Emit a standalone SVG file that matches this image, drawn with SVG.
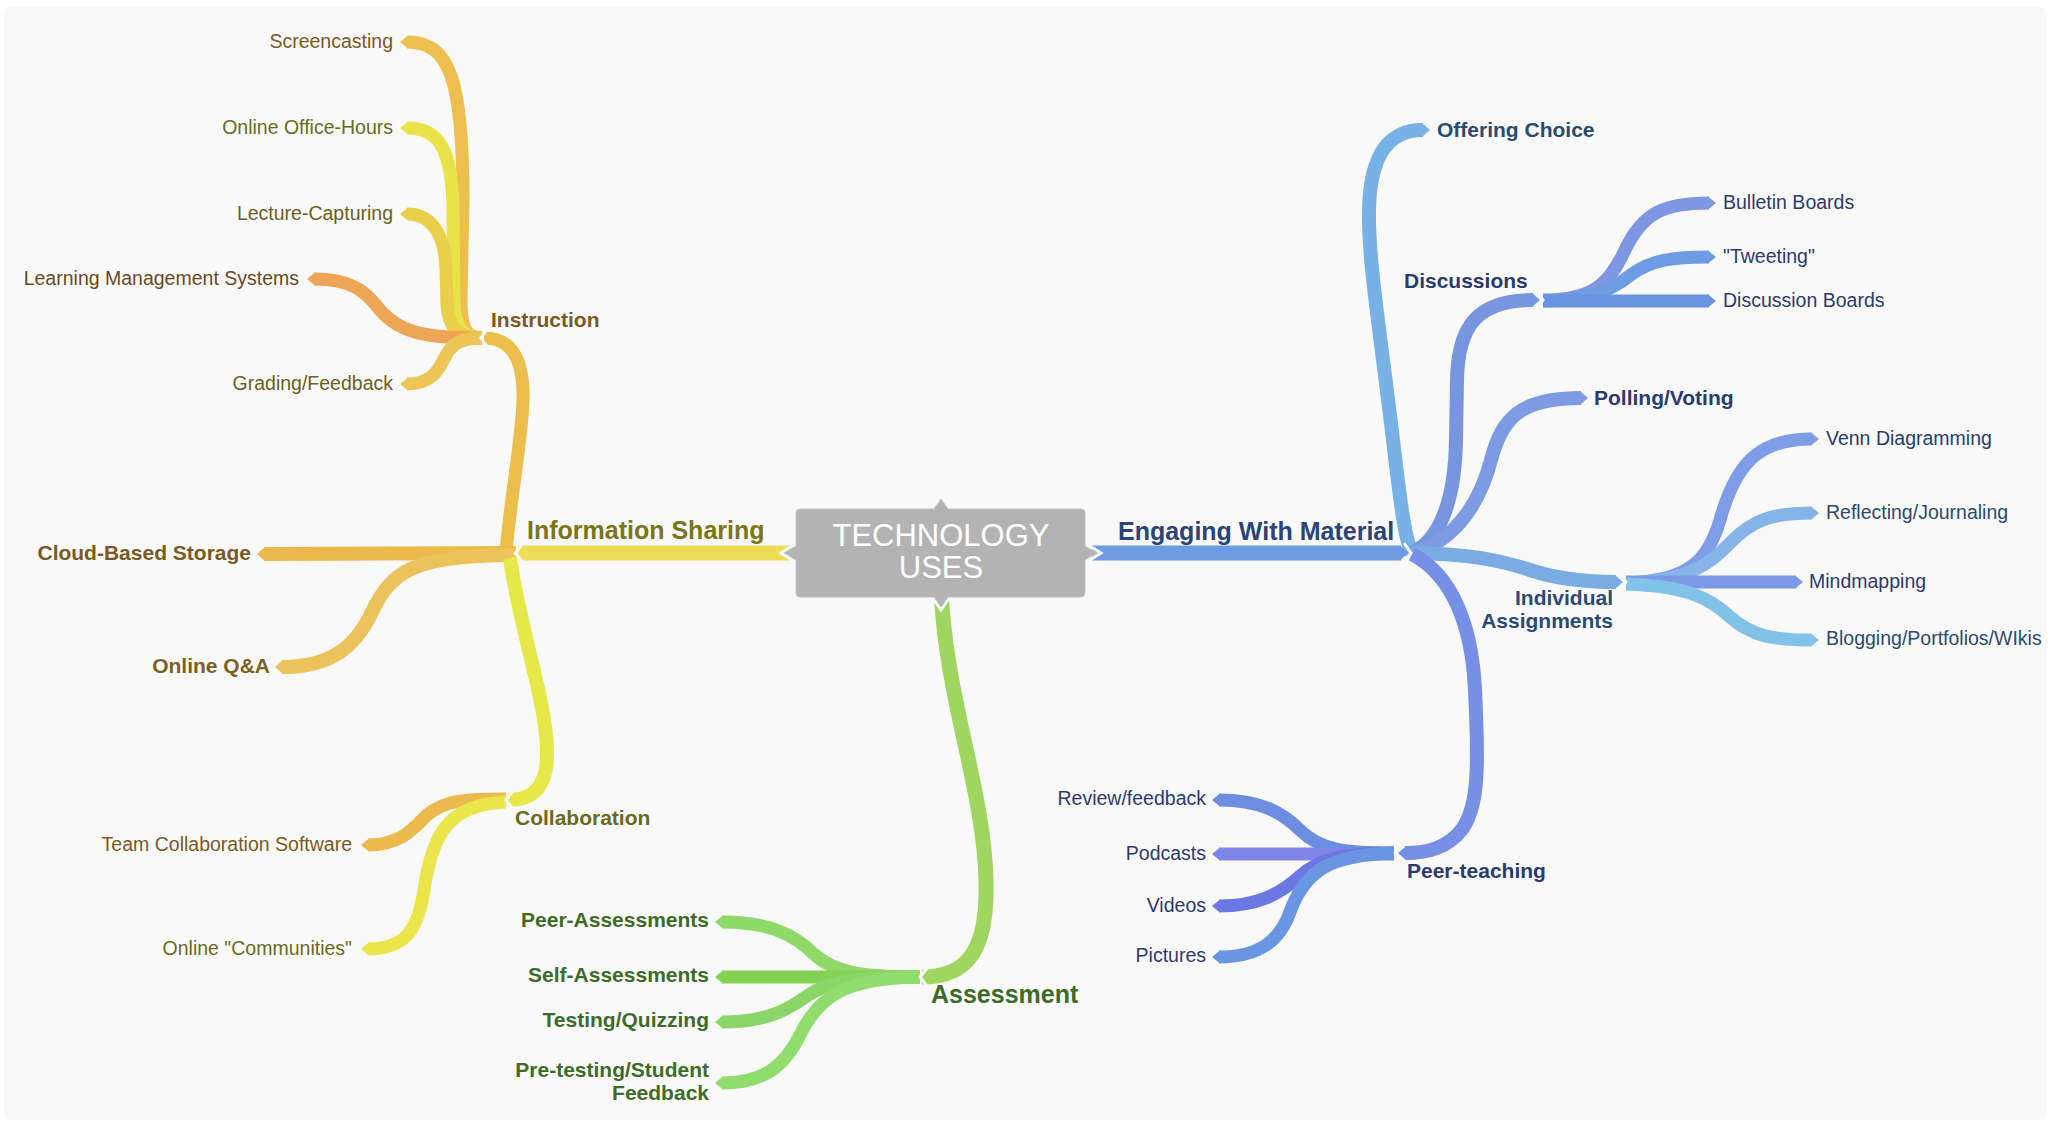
<svg xmlns="http://www.w3.org/2000/svg" width="2053" height="1125" viewBox="0 0 2053 1125">
<style>
.ln{fill:none;stroke-linecap:butt;stroke-linejoin:round}
.w13{stroke-width:13}.w14{stroke-width:14}.w15{stroke-width:15}
.gap{fill:none;stroke:#f9f9f9;stroke-width:3;stroke-linejoin:miter}
text{font-family:"Liberation Sans",Arial,Helvetica,sans-serif}
.leaf{font-size:19.5px}
.sub{font-size:21px;font-weight:bold}
.main{font-size:25px;font-weight:bold}
.end{text-anchor:end}
.ttl{font-size:31px;fill:#ffffff;text-anchor:middle}
.cO{fill:#7a5a22}.cY{fill:#6c6a1e}.cG{fill:#3f6b28}.cB{fill:#2b3b70}
</style>
<rect x="0" y="0" width="2053" height="1125" fill="#ffffff"/>
<rect x="4" y="7" width="2043" height="1113" rx="8" fill="#f9f9f9"/>

<g id="connectors">
  <!-- Information Sharing main branch -->
  <path class="ln w15" stroke="#eddc55" d="M518,553 L790,553"/>
  <polyline class="gap" points="796,543.5 781,553 796,562.5"/>
  <!-- Instruction connector -->
  <path class="ln w13" stroke="#ecbe4c" d="M506,553 C510,500 522,440 523,400 C524,360 512,338 484,338"/>
  <!-- Instruction children -->
  <path class="ln w13" stroke="#ecbf4f" d="M407,42 C450,42 463,80 463,200 L461,300 C461,328 466,338 482,338"/>
  <polygon fill="#ecbf4f" points="400,42 408,35.5 408,48.5"/>
  <path class="ln w13" stroke="#e9e34a" d="M407,128 C440,128 452,150 453,210 L454,300 C455,328 462,338 482,338"/>
  <polygon fill="#e9e34a" points="400,128 408,121.5 408,134.5"/>
  <path class="ln w13" stroke="#ead04a" d="M407,214 C432,214 445,235 446,270 L447,305 C449,330 460,338 482,338"/>
  <polygon fill="#ead04a" points="400,214 408,207.5 408,220.5"/>
  <path class="ln w13" stroke="#eea555" d="M314,279 C350,279 365,290 380,310 C400,333 425,338 482,338"/>
  <polygon fill="#eea555" points="307,279 315,272.5 315,285.5"/>
  <path class="ln w13" stroke="#edc655" d="M407,384 C430,384 438,372 445,357 C452,343 462,338 482,338"/>
  <polygon fill="#edc655" points="400,384 408,377.5 408,390.5"/>
  <polyline class="gap" points="488,328 481,338 488,348"/>
  <!-- Information Sharing children -->
  <path class="ln w14" stroke="#ecb94d" d="M264,554 L516,553"/>
  <polygon fill="#ecb94d" points="257,554 265,547 265,561"/>
  <path class="ln w14" stroke="#ecc35a" d="M282,667 C330,667 355,648 372,612 C392,570 415,555 516,555"/>
  <polygon fill="#ecc35a" points="275,667 283,660 283,674"/>
  <path class="ln w14" stroke="#e6e84a" d="M510,558 C520,630 546,700 547,750 C548,785 535,800 508,800"/>
  <polyline class="gap" points="523,544 515,553 523,562"/>
  <!-- Collaboration children -->
  <path class="ln w13" stroke="#ecb94d" d="M368,845 C400,845 412,830 427,815 C445,800 465,799 506,799"/>
  <polygon fill="#ecb94d" points="361,845 369,838.5 369,851.5"/>
  <path class="ln w13" stroke="#e9e54a" d="M368,949 C405,949 418,930 424,890 C432,835 448,804 506,802"/>
  <polygon fill="#e9e54a" points="361,949 369,942.5 369,955.5"/>
  <polyline class="gap" points="513,791 506,800 513,809"/>
  <!-- Assessment main branch -->
  <path class="ln w15" stroke="#9fd65f" d="M941,590 C946,700 984,790 986,880 C988,950 968,977 922,977"/>
  <polyline class="gap" points="931.5,596 941,610 950.5,596"/>
  <!-- Assessment children -->
  <path class="ln w13" stroke="#8dda69" d="M722,922 C770,922 795,935 815,955 C838,975 870,977 920,977"/>
  <polygon fill="#8dda69" points="715,922 723,915.5 723,928.5"/>
  <path class="ln w13" stroke="#84d254" d="M722,977 L920,977"/>
  <polygon fill="#84d254" points="715,977 723,970.5 723,983.5"/>
  <path class="ln w13" stroke="#8bd668" d="M722,1022 C770,1022 790,1008 810,994 C832,980 865,977 920,977"/>
  <polygon fill="#8bd668" points="715,1022 723,1015.5 723,1028.5"/>
  <path class="ln w13" stroke="#90dc6c" d="M722,1083 C765,1083 785,1065 800,1035 C820,993 850,978 920,977"/>
  <polygon fill="#90dc6c" points="715,1083 723,1076.5 723,1089.5"/>
  <polyline class="gap" points="927,968 920,977 927,986"/>
  <!-- Engaging With Material main branch -->
  <path class="ln w15" stroke="#6f9be3" d="M1092,553 L1401,553"/>
  <polyline class="gap" points="1086,543.5 1101,553 1086,562.5"/>
  <!-- Engaging children -->
  <path class="ln w14" stroke="#78b1e6" d="M1412,553 C1405,540 1400,500 1393,440 C1380,330 1368,260 1369,210 C1370,160 1385,130 1423,130"/>
  <polygon fill="#78b1e6" points="1430,130 1422,123 1422,137"/>
  <path class="ln w14" stroke="#7896e0" d="M1412,553 C1440,540 1455,500 1456,440 L1457,380 C1458,325 1478,300 1533,300"/>
  <polygon fill="#7896e0" points="1540,300 1532,293 1532,307"/>
  <path class="ln w14" stroke="#7d9be3" d="M1412,553 C1460,540 1482,495 1491,460 C1502,418 1520,398 1581,398"/>
  <polygon fill="#7d9be3" points="1588,398 1580,391 1580,405"/>
  <path class="ln w14" stroke="#7aabe3" d="M1412,553 C1470,554 1500,560 1530,570 C1560,580 1590,582 1616,582"/>
  <polygon fill="#7aabe3" points="1623,582 1615,575 1615,589"/>
  <path class="ln w14" stroke="#7690e6" d="M1412,554 C1452,575 1472,625 1475,690 C1479,770 1478,805 1463,828 C1448,848 1428,853 1405,853"/>
  <polygon fill="#7690e6" points="1398,853 1406,846 1406,860"/>
  <polygon fill="#6f9be3" points="1408,553 1400,545.5 1400,560.5"/>
  <polyline class="gap" points="1404,543 1411,553 1404,563"/>
  <!-- Discussions children -->
  <path class="ln w13" stroke="#7d97e2" d="M1543,300 C1595,300 1610,282 1625,250 C1643,212 1665,203 1709,203"/>
  <polygon fill="#7d97e2" points="1716,203 1708,196.5 1708,209.5"/>
  <path class="ln w13" stroke="#6e9ce4" d="M1543,301 C1590,301 1612,290 1632,274 C1652,260 1672,257 1709,257"/>
  <polygon fill="#6e9ce4" points="1716,257 1708,250.5 1708,263.5"/>
  <path class="ln w13" stroke="#6a94e2" d="M1543,301 L1709,301"/>
  <polygon fill="#6a94e2" points="1716,301 1708,294.5 1708,307.5"/>
  <polyline class="gap" points="1536,291 1543,300 1536,309"/>
  <!-- Individual Assignments children -->
  <path class="ln w13" stroke="#7e9de6" d="M1626,583 C1690,581 1708,560 1720,520 C1736,462 1760,439 1812,439"/>
  <polygon fill="#7e9de6" points="1819,439 1811,432.5 1811,445.5"/>
  <path class="ln w13" stroke="#86b3e8" d="M1626,583 C1690,581 1712,562 1730,543 C1752,520 1772,513 1812,513"/>
  <polygon fill="#86b3e8" points="1819,513 1811,506.5 1811,519.5"/>
  <path class="ln w13" stroke="#7b99e6" d="M1626,582 L1796,582"/>
  <polygon fill="#7b99e6" points="1803,582 1795,575.5 1795,588.5"/>
  <path class="ln w13" stroke="#83c2e8" d="M1626,584 C1690,586 1712,600 1730,617 C1752,636 1772,640 1812,640"/>
  <polygon fill="#83c2e8" points="1819,640 1811,633.5 1811,646.5"/>
  <polyline class="gap" points="1619,573 1626,582 1619,591"/>
  <!-- Peer-teaching children -->
  <path class="ln w13" stroke="#6c8de0" d="M1219,800 C1260,800 1282,812 1300,830 C1320,850 1345,853 1394,853"/>
  <polygon fill="#6c8de0" points="1212,800 1220,793.5 1220,806.5"/>
  <path class="ln w13" stroke="#7d86e6" d="M1219,854 L1394,854"/>
  <polygon fill="#7d86e6" points="1212,854 1220,847.5 1220,860.5"/>
  <path class="ln w13" stroke="#6b78e3" d="M1219,906 C1258,906 1280,894 1300,876 C1320,858 1345,853 1394,853"/>
  <polygon fill="#6b78e3" points="1212,906 1220,899.5 1220,912.5"/>
  <path class="ln w13" stroke="#6995e2" d="M1219,957 C1260,957 1280,940 1290,912 C1305,870 1330,855 1394,853"/>
  <polygon fill="#6995e2" points="1212,957 1220,950.5 1220,963.5"/>
  <polyline class="gap" points="1402,844 1395,853 1402,862"/>
</g>

<g id="node-center">
  <path fill="#b3b3b3" stroke="#c4c4c4" stroke-width="1" d="M800,509 L934,509 L941,499 L948,509 L1081,509 Q1085,509 1085,513 L1085,546 L1097,553 L1085,560 L1085,593 Q1085,597 1081,597 L948,597 L941,607 L934,597 L800,597 Q796,597 796,593 L796,560 L784,553 L796,546 L796,513 Q796,509 800,509 Z"/>
  <text class="ttl" x="941" y="546">TECHNOLOGY</text>
  <text class="ttl" x="941" y="578">USES</text>
</g>

<g id="node-information-sharing"><text class="main" x="527" y="539" fill="#7b7419">Information Sharing</text></g>
<g id="node-instruction"><text class="sub cO" x="491" y="327">Instruction</text></g>
<g id="node-screencasting"><text class="leaf end cO" x="393" y="48">Screencasting</text></g>
<g id="node-online-office-hours"><text class="leaf end cY" x="393" y="134">Online Office-Hours</text></g>
<g id="node-lecture-capturing"><text class="leaf end" x="393" y="220" fill="#6e5f1f">Lecture-Capturing</text></g>
<g id="node-lms"><text class="leaf end" x="299" y="285" fill="#6b4a1e">Learning Management Systems</text></g>
<g id="node-grading"><text class="leaf end" x="393" y="390" fill="#6f5e1e">Grading/Feedback</text></g>
<g id="node-cloud"><text class="sub end cO" x="251" y="560">Cloud-Based Storage</text></g>
<g id="node-online-qa"><text class="sub end" x="270" y="673" fill="#7a621f">Online Q&amp;A</text></g>
<g id="node-collaboration"><text class="sub cY" x="515" y="825">Collaboration</text></g>
<g id="node-team"><text class="leaf end cO" x="352" y="851">Team Collaboration Software</text></g>
<g id="node-communities"><text class="leaf end cY" x="352" y="955">Online "Communities"</text></g>

<g id="node-assessment"><text class="main cG" x="931" y="1003">Assessment</text></g>
<g id="node-peer-assessments"><text class="sub end cG" x="709" y="927">Peer-Assessments</text></g>
<g id="node-self-assessments"><text class="sub end cG" x="709" y="982">Self-Assessments</text></g>
<g id="node-testing"><text class="sub end cG" x="709" y="1027">Testing/Quizzing</text></g>
<g id="node-pretesting"><text class="sub end cG" x="709" y="1077">Pre-testing/Student</text><text class="sub end cG" x="709" y="1100">Feedback</text></g>

<g id="node-engaging"><text class="main" x="1118" y="540" fill="#2a4478">Engaging With Material</text></g>
<g id="node-offering-choice"><text class="sub" x="1437" y="137" fill="#2a4a70">Offering Choice</text></g>
<g id="node-discussions"><text class="sub cB" x="1404" y="288">Discussions</text></g>
<g id="node-bulletin"><text class="leaf cB" x="1723" y="209">Bulletin Boards</text></g>
<g id="node-tweeting"><text class="leaf cB" x="1723" y="263">"Tweeting"</text></g>
<g id="node-discussion-boards"><text class="leaf cB" x="1723" y="307">Discussion Boards</text></g>
<g id="node-polling"><text class="sub cB" x="1594" y="405">Polling/Voting</text></g>
<g id="node-individual"><text class="sub end" x="1613" y="605" fill="#2c4a72">Individual</text><text class="sub end" x="1613" y="628" fill="#2c4a72">Assignments</text></g>
<g id="node-venn"><text class="leaf cB" x="1826" y="445">Venn Diagramming</text></g>
<g id="node-reflecting"><text class="leaf" x="1826" y="519" fill="#2c4a72">Reflecting/Journaling</text></g>
<g id="node-mindmapping"><text class="leaf cB" x="1809" y="588">Mindmapping</text></g>
<g id="node-blogging"><text class="leaf" x="1826" y="645" fill="#2c4a72">Blogging/Portfolios/WIkis</text></g>
<g id="node-peer-teaching"><text class="sub cB" x="1407" y="878">Peer-teaching</text></g>
<g id="node-review"><text class="leaf end cB" x="1206" y="805">Review/feedback</text></g>
<g id="node-podcasts"><text class="leaf end cB" x="1206" y="860">Podcasts</text></g>
<g id="node-videos"><text class="leaf end cB" x="1206" y="912">Videos</text></g>
<g id="node-pictures"><text class="leaf end cB" x="1206" y="962">Pictures</text></g>
</svg>
